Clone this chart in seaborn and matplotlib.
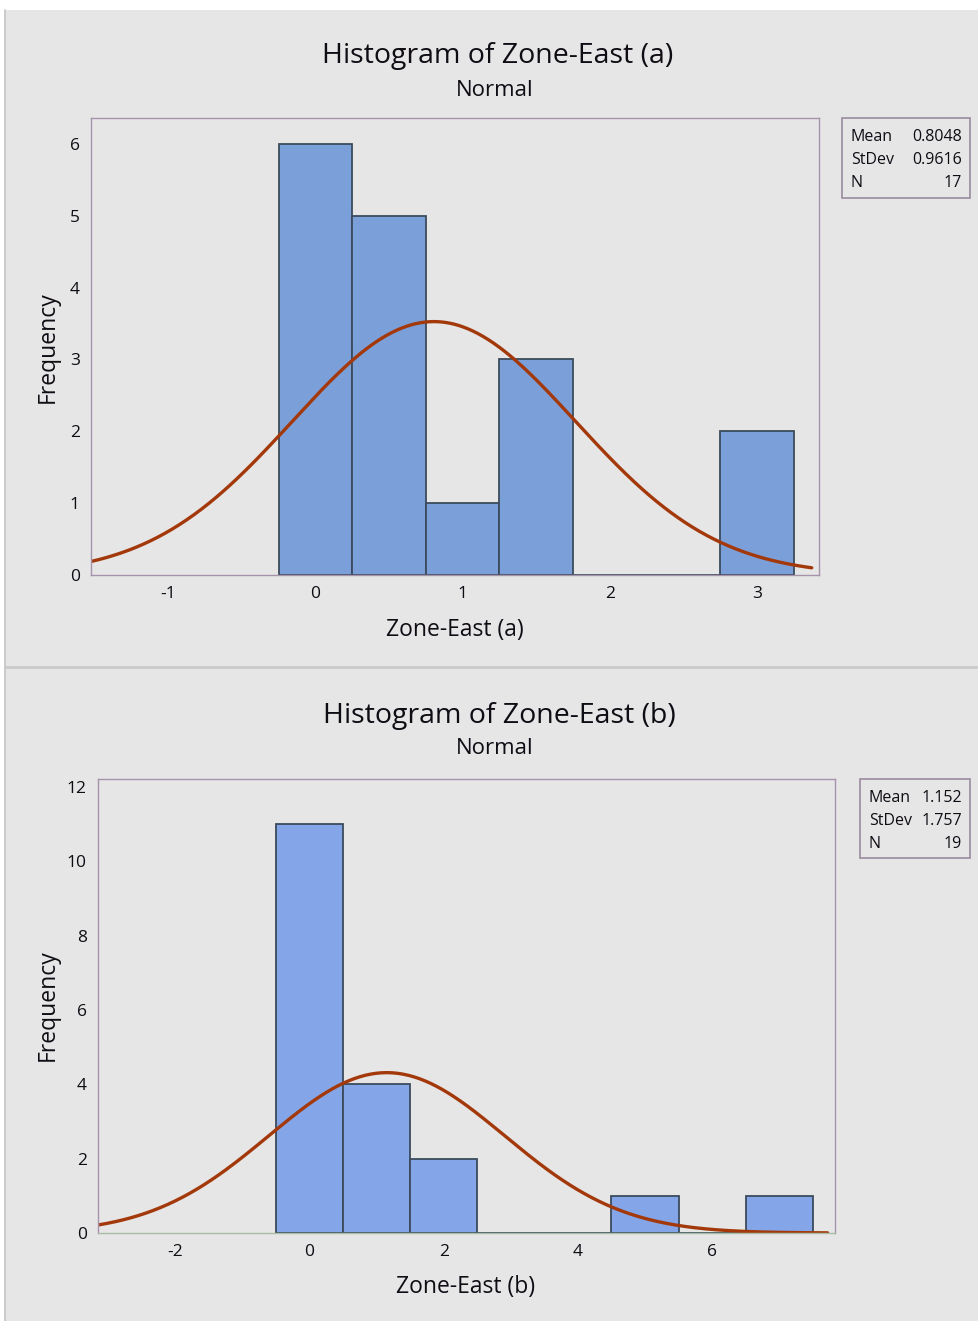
import numpy as np
import pandas as pd
import matplotlib
matplotlib.use("Agg")
import matplotlib.pyplot as plt
from matplotlib.patches import Rectangle
from matplotlib.lines import Line2D
import seaborn as sns

sns.set_theme(style="white")
plt.rcParams["font.family"] = ["Open Sans", "DejaVu Sans"]
plt.rcParams["axes.unicode_minus"] = False

# Panel (a): bin centres and counts
centers_a = [0.0, 0.5, 1.0, 1.5, 2.0, 2.5, 3.0]
counts_a = [6, 5, 1, 3, 0, 0, 2]
mean_a, sd_a, n_a = 0.8048, 0.9616, 17
width_a = 0.5

# Panel (b): bin centres and counts
centers_b = [0, 1, 2, 3, 4, 5, 6, 7]
counts_b = [11, 4, 2, 0, 0, 1, 0, 1]
mean_b, sd_b, n_b = 1.152, 1.757, 19
width_b = 1.0

W, H = 979, 1321
BG = "#e6e6e6"
SPINE = "#a493aa"
TXT = "#100c14"
CURVE = "#a3390b"
EDGE = "#3b4b5c"

fig = plt.figure(figsize=(W / 100, H / 100), dpi=100, facecolor="white")

# panel background
fig.patches.append(Rectangle((5 / W, 0), 1 - 5 / W, (H - 10) / H, transform=fig.transFigure,
                             facecolor=BG, edgecolor="none", zorder=-10))
fig.lines.append(Line2D([5.5 / W, 5.5 / W], [0, (H - 10) / H], transform=fig.transFigure,
                        color="#c4c4c4", lw=1.2))
fig.lines.append(Line2D([5 / W, 1], [1 - 667 / H, 1 - 667 / H], transform=fig.transFigure,
                        color="#c8c8c8", lw=1.8))


def px_axes(l, r, t, b):
    return fig.add_axes([l / W, 1 - b / H, (r - l) / W, (b - t) / H])


def panel(ax, centers, counts, mean, sd, n, width, xlim, ylim, xticks, yticks,
          barcolor, bottom_color):
    centers = [float(c) for c in centers]
    edges = [c - width / 2 for c in centers] + [centers[-1] + width / 2]
    df = pd.DataFrame({"x": centers, "w": counts})
    sns.histplot(data=df, x="x", weights="w", bins=edges, ax=ax,
                 color=barcolor, alpha=1.0, edgecolor=EDGE, linewidth=1.3)
    xs = np.linspace(xlim[0], xlim[1] - 0.01 * (xlim[1] - xlim[0]), 400)
    ys = n * width * np.exp(-0.5 * ((xs - mean) / sd) ** 2) / (sd * np.sqrt(2 * np.pi))
    sns.lineplot(x=xs, y=ys, ax=ax, color=CURVE, lw=2.4)
    ax.set_xlim(*xlim)
    ax.set_ylim(*ylim)
    ax.set_xticks(xticks)
    ax.set_yticks(yticks)
    ax.set_facecolor(BG)
    for s in ax.spines.values():
        s.set_color(SPINE)
        s.set_linewidth(1.0)
    ax.spines["bottom"].set_color(bottom_color)
    ax.tick_params(axis="both", direction="out", length=5, width=1, color=SPINE,
                   labelsize=12.5, labelcolor=TXT, pad=3)
    ax.set_xlabel("")
    ax.set_ylabel("")


ax_a = px_axes(91, 819, 118, 575)
panel(ax_a, centers_a, counts_a, mean_a, sd_a, n_a, width_a,
      (-1.524, 3.42), (0, 6.36), [-1, 0, 1, 2, 3], [0, 1, 2, 3, 4, 5, 6],
      "#7b9fd9", SPINE)

ax_b = px_axes(98, 835, 779, 1233)
panel(ax_b, centers_b, counts_b, mean_b, sd_b, n_b, width_b,
      (-3.15, 7.83), (0, 12.215), [-2, 0, 2, 4, 6], [0, 2, 4, 6, 8, 10, 12],
      "#84a6e8", "#a9bda6")


def ftext(x, y, s, **kw):
    fig.text(x / W, 1 - y / H, s, color=TXT, **kw)


# titles and axis labels
ftext(498, 56, "Histogram of Zone-East (a)", ha="center", va="center", fontsize=20.5)
ftext(495, 90, "Normal", ha="center", va="center", fontsize=16)
ftext(455, 630, "Zone-East (a)", ha="center", va="center", fontsize=16.5)
ftext(48, 347, "Frequency", ha="center", va="center", rotation=90, fontsize=16.5)

ftext(499, 716, "Histogram of Zone-East (b)", ha="center", va="center", fontsize=20.5)
ftext(495, 749, "Normal", ha="center", va="center", fontsize=16)
ftext(466, 1287, "Zone-East (b)", ha="center", va="center", fontsize=16.5)
ftext(48, 1005, "Frequency", ha="center", va="center", rotation=90, fontsize=16.5)


def stats_box(l, r, t, b, rows):
    fig.patches.append(Rectangle((l / W, 1 - b / H), (r - l) / W, (b - t) / H,
                                 transform=fig.transFigure, facecolor=BG,
                                 edgecolor="#9a8a9e", lw=1.2))
    for i, (k, v) in enumerate(rows):
        y = t + 19 + 23 * i
        ftext(l + 9, y, k, ha="left", va="center", fontsize=11.5)
        ftext(r - 8, y, v, ha="right", va="center", fontsize=11.5)


stats_box(842, 970, 118, 198, [("Mean", f"{mean_a:.4f}"), ("StDev", f"{sd_a:.4f}"), ("N", f"{n_a}")])
stats_box(860, 970, 779, 858, [("Mean", f"{mean_b:.3f}"), ("StDev", f"{sd_b:.3f}"), ("N", f"{n_b}")])

fig.savefig("out.png", dpi=100, facecolor=fig.get_facecolor())
